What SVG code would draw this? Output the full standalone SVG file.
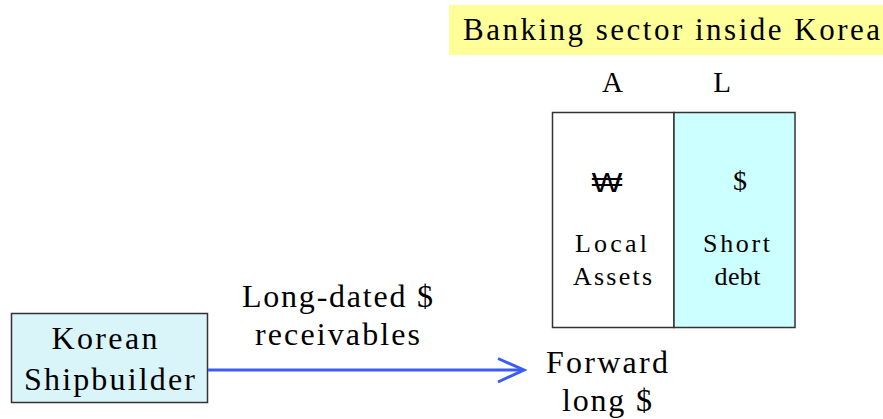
<svg xmlns="http://www.w3.org/2000/svg" width="883" height="419" viewBox="0 0 883 419">
<style>
text{fill:#000;text-anchor:middle}
.big{font-size:32px}
.ttl{font-size:31px}
.al{font-size:29px}
.mid{font-size:26px}
</style>
<rect width="883" height="419" fill="#fff"/>
<g font-family="Liberation Serif, Times New Roman, serif">
<g id="title">
<rect x="449" y="5" width="434" height="50" fill="#ffff99"/>
<text class="ttl" x="671.5" y="40" textLength="417" lengthAdjust="spacing">Banking sector inside Korea</text>
</g>
<g id="labels-AL">
<text class="al" x="612.5" y="92">A</text>
<text class="al" x="722" y="92">L</text>
</g>
<g id="assets">
<rect x="552.5" y="112.5" width="121.5" height="215" fill="#fff" stroke="#333" stroke-width="1.5"/>
<text x="607" y="192" font-size="27" font-family="Liberation Sans, Noto Sans, sans-serif" textLength="31" lengthAdjust="spacingAndGlyphs">₩</text>
<text class="mid" x="611" y="252" textLength="72" lengthAdjust="spacing">Local</text>
<text class="mid" x="612.5" y="285" textLength="79" lengthAdjust="spacing">Assets</text>
</g>
<g id="liabilities">
<rect x="674" y="112.5" width="121" height="215" fill="#ccffff" stroke="#333" stroke-width="1.5"/>
<text x="740" y="190" font-size="28">$</text>
<text class="mid" x="736.5" y="252" textLength="67" lengthAdjust="spacing">Short</text>
<text class="mid" x="737.5" y="285" textLength="46" lengthAdjust="spacing">debt</text>
</g>
<g id="shipbuilder">
<rect x="11.5" y="313.5" width="196" height="89" fill="#d9f5f9" stroke="#333" stroke-width="1.5"/>
<text class="big" x="104.5" y="349" textLength="106" lengthAdjust="spacing">Korean</text>
<text class="big" x="109.5" y="390" textLength="171" lengthAdjust="spacing">Shipbuilder</text>
</g>
<g id="connectors">
<line x1="208" y1="370" x2="523" y2="370" stroke="#3a5cf5" stroke-width="3"/>
<polyline points="498,358.5 524,370 498,382" fill="none" stroke="#3a5cf5" stroke-width="3"/>
</g>
<g id="edge-label">
<text class="big" x="337.5" y="307" textLength="191" lengthAdjust="spacing">Long-dated $</text>
<text class="big" x="337.5" y="345" textLength="165" lengthAdjust="spacing">receivables</text>
</g>
<g id="forward">
<text class="big" x="607" y="373" textLength="122" lengthAdjust="spacing">Forward</text>
<text class="big" x="607" y="411" textLength="90" lengthAdjust="spacing">long $</text>
</g>
</g>
</svg>
